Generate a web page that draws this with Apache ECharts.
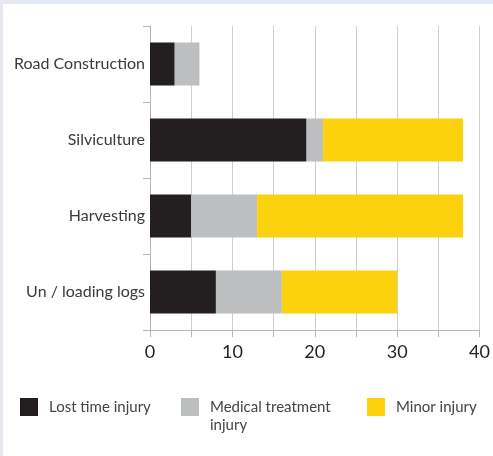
<!DOCTYPE html>
<html>
<head>
<meta charset="utf-8">
<script src="https://cdn.jsdelivr.net/npm/echarts@6/dist/echarts.min.js"></script>
<style>
html,body{margin:0;padding:0;width:493px;height:456px;background:#e3e8f1;overflow:hidden;}
#frame{position:absolute;left:3px;top:4px;width:490px;height:452px;background:#fff;}
#chart{position:absolute;left:-3px;top:-4px;width:493px;height:456px;}
</style>
</head>
<body>
<div id="frame"><div id="chart"></div></div>
<script>
const categories = ['Road Construction', 'Silviculture', 'Harvesting', 'Un / loading logs'];
const seriesNames = ['Lost time injury', 'Medical treatment injury', 'Minor injury'];
const lostTime = [3, 19, 5, 8];
const medical = [3, 2, 8, 8];
const minor = [0, 17, 25, 14];
const xTicks = [0, 10, 20, 30, 40];

const colors = ['#231f20', '#bcbec0', '#fcd20f'];
const values = [lostTime, medical, minor];
const font = 'Lato, "Open Sans", sans-serif';

const chart = echarts.init(document.getElementById('chart'), null, {renderer: 'canvas'});
const legendCfg = [
  {left: 20, top: 398, icon: 'rect', h: 18},
  {left: 181, top: 398, icon: 'path://M0,0h18v18h-18z M0,36h0.001', h: 36},
  {left: 367, top: 398, icon: 'rect', h: 18}
];
chart.setOption({
  animation: false,
  backgroundColor: 'transparent',
  grid: {left: 150, right: 12, top: 26, bottom: 126, containLabel: false},
  xAxis: {
    type: 'value', min: 0, max: 40, interval: 5,
    axisLine: {show: true, lineStyle: {color: '#b5b5b5', width: 1}},
    axisTick: {show: true, length: 7, lineStyle: {color: '#b5b5b5'}},
    splitLine: {show: true, lineStyle: {color: '#cfcfcf', width: 1}},
    axisLabel: {
      margin: 13, color: '#231f20', fontSize: 18, fontFamily: font,
      formatter: v => xTicks.includes(v) ? String(v) : ''
    }
  },
  yAxis: {
    type: 'category', data: categories, inverse: true,
    axisLine: {show: true, lineStyle: {color: '#b5b5b5'}},
    axisTick: {show: true, length: 7, lineStyle: {color: '#b5b5b5'}},
    axisLabel: {margin: 5, color: '#3a3a3a', fontSize: 16, fontFamily: font}
  },
  legend: seriesNames.map((n, i) => ({
    data: [n], top: legendCfg[i].top, left: legendCfg[i].left, padding: 0,
    itemWidth: 18, itemHeight: legendCfg[i].h, itemGap: 0, icon: legendCfg[i].icon,
    textStyle: {color: '#444', fontSize: 15, fontFamily: font, padding: [0, 0, 0, 6], lineHeight: 18},
    formatter: name => name === 'Medical treatment injury' ? 'Medical treatment\ninjury' : name,
    selectedMode: false
  })),
  series: seriesNames.map((n, i) => ({
    name: n, type: 'bar', stack: 'total', data: values[i],
    barWidth: 43, itemStyle: {color: colors[i]}
  }))
});
</script>
</body>
</html>
